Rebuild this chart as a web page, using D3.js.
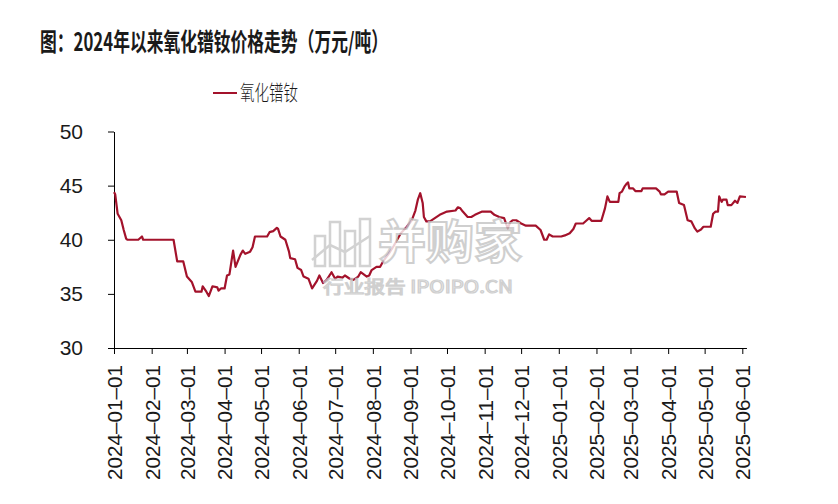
<!DOCTYPE html>
<html>
<head>
<meta charset="utf-8">
<script src="https://cdn.jsdelivr.net/npm/d3@7"></script>
<style>
  html, body { margin: 0; padding: 0; background: #ffffff; }
  svg { display: block; }
</style>
</head>
<body>
<div id="chart"></div>
<script>
// ---------------- data ----------------
const titleText = "图：2024年以来氧化镨钕价格走势（万元/吨）";
const seriesName = "氧化镨钕";
const watermarkBig = "并购家";
const watermarkSmall = "行业报告 IPOIPO.CN";

const yTicks = [30, 35, 40, 45, 50];
const xTickLabels = [
  "2024-01-01","2024-02-01","2024-03-01","2024-04-01","2024-05-01","2024-06-01",
  "2024-07-01","2024-08-01","2024-09-01","2024-10-01","2024-11-01","2024-12-01",
  "2025-01-01","2025-02-01","2025-03-01","2025-04-01","2025-05-01","2025-06-01"
];

const dates = [
  "2024-01-01","2024-01-02","2024-01-04","2024-01-07","2024-01-09","2024-01-11","2024-01-12","2024-01-21",
  "2024-01-24","2024-01-25","2024-02-19","2024-02-22","2024-02-27","2024-03-01","2024-03-05","2024-03-08",
  "2024-03-13","2024-03-14","2024-03-17","2024-03-19","2024-03-22","2024-03-26","2024-03-27","2024-03-29",
  "2024-04-01","2024-04-03","2024-04-05","2024-04-08","2024-04-10","2024-04-14","2024-04-16","2024-04-18",
  "2024-04-22","2024-04-24","2024-04-26","2024-05-06","2024-05-08","2024-05-11","2024-05-14","2024-05-15",
  "2024-05-17","2024-05-21","2024-05-24","2024-05-25","2024-05-29","2024-05-31","2024-06-03","2024-06-05",
  "2024-06-09","2024-06-12","2024-06-16","2024-06-18","2024-06-21","2024-06-24","2024-06-28","2024-07-01",
  "2024-07-03","2024-07-07","2024-07-09","2024-07-13","2024-07-16","2024-07-20","2024-07-22","2024-07-27",
  "2024-07-29","2024-07-31","2024-08-04","2024-08-07","2024-08-10","2024-08-14","2024-08-18","2024-08-21",
  "2024-08-24","2024-08-29","2024-09-02","2024-09-05","2024-09-07","2024-09-09","2024-09-11","2024-09-12",
  "2024-09-14","2024-09-17","2024-09-21","2024-09-25","2024-10-01","2024-10-08","2024-10-10","2024-10-12",
  "2024-10-14","2024-10-18","2024-10-21","2024-10-24","2024-10-30","2024-11-06","2024-11-09","2024-11-13",
  "2024-11-17","2024-11-20","2024-11-22","2024-11-24","2024-11-27","2024-12-01","2024-12-05","2024-12-13",
  "2024-12-17","2024-12-20","2024-12-22","2024-12-24","2024-12-27","2025-01-03","2025-01-06","2025-01-10",
  "2025-01-13","2025-01-15","2025-01-21","2025-01-24","2025-01-26","2025-01-28","2025-02-05","2025-02-08",
  "2025-02-10","2025-02-12","2025-02-19","2025-02-20","2025-02-22","2025-02-24","2025-02-26","2025-02-27",
  "2025-02-28","2025-03-03","2025-03-05","2025-03-10","2025-03-11","2025-03-22","2025-03-25","2025-03-26",
  "2025-03-29","2025-04-01","2025-04-08","2025-04-10","2025-04-14","2025-04-17","2025-04-20","2025-04-23",
  "2025-04-25","2025-04-28","2025-04-30","2025-05-06","2025-05-08","2025-05-10","2025-05-12","2025-05-13",
  "2025-05-15","2025-05-16","2025-05-19","2025-05-20","2025-05-23","2025-05-26","2025-05-28","2025-05-30",
  "2025-06-04"
];

const values = [
  44.4, 44.2, 42.4, 41.8, 40.9, 40.1, 40.0, 40.0,
  40.3, 40.0, 40.0, 38.0, 38.0, 36.6, 36.1, 35.2,
  35.2, 35.7, 35.2, 34.8, 35.7, 35.6, 35.3, 35.5,
  35.5, 36.7, 36.8, 39.0, 37.5, 38.6, 39.0, 38.7,
  38.9, 39.3, 40.3, 40.3, 40.7, 40.8, 41.1, 41.0,
  40.3, 40.0, 38.9, 38.3, 38.2, 37.4, 37.2, 36.6,
  36.4, 35.5, 36.2, 36.7, 36.0, 36.3, 37.0, 36.4,
  36.6, 36.5, 36.7, 36.4, 36.3, 36.6, 37.0, 36.6,
  36.7, 37.2, 37.5, 37.5, 38.1, 38.7, 39.4, 40.0,
  40.6, 41.2, 41.8, 42.7, 43.7, 44.3, 43.4, 42.1,
  41.7, 41.7, 42.0, 42.3, 42.6, 42.7, 43.0, 42.9,
  42.6, 42.1, 42.1, 42.3, 42.6, 42.6, 42.3, 42.1,
  42.0, 41.05, 41.6, 41.8, 41.8, 41.5, 41.3, 41.3,
  40.9, 40.0, 40.0, 40.5, 40.3, 40.3, 40.4, 40.6,
  41.0, 41.5, 41.5, 41.8, 42.0, 41.75, 41.75, 42.9,
  44.0, 43.5, 43.5, 44.3, 44.45, 44.9, 45.2, 45.3,
  44.75, 44.75, 44.5, 44.5, 44.75, 44.75, 44.45, 44.2,
  44.2, 44.45, 44.45, 43.4, 43.2, 41.8, 41.7, 41.05,
  40.75, 40.95, 41.2, 41.2, 42.4, 42.6, 42.6, 44.0,
  43.5, 43.7, 43.7, 43.2, 43.2, 43.6, 43.4, 44.0,
  43.95
];

// ---------------- layout ----------------
const W = 838, H = 504;
const parse = d3.utcParse("%Y-%m-%d");
const lineColor = "#A3122B";
const textColor = "#1a1a1a";
const numFont = "'Liberation Sans', Arial, sans-serif";
const cjkFont = "'Noto Sans CJK SC', 'Noto Sans', sans-serif";

const data = dates.map((d, i) => ({ date: parse(d), value: values[i] }));
const tickDates = xTickLabels.map(parse);

const x = d3.scaleUtc()
  .domain([tickDates[0], tickDates[tickDates.length - 1]])
  .range([114, 742.3]);
const y = d3.scaleLinear().domain([30, 50]).range([348, 131.5]);

const svg = d3.select("#chart").append("svg")
  .attr("width", W).attr("height", H)
  .attr("viewBox", `0 0 ${W} ${H}`);

svg.append("rect").attr("width", W).attr("height", H).attr("fill", "#fff");

// title
svg.append("text")
  .attr("x", 40).attr("y", 51)
  .attr("font-family", cjkFont)
  .attr("font-weight", 700)
  .attr("font-size", 25)
  .attr("fill", textColor)
  .attr("textLength", 348)
  .attr("lengthAdjust", "spacingAndGlyphs")
  .text(titleText);

// legend
const legend = svg.append("g");
legend.append("line")
  .attr("x1", 213).attr("x2", 237).attr("y1", 93).attr("y2", 93)
  .attr("stroke", lineColor).attr("stroke-width", 2);
legend.append("text")
  .attr("x", 240).attr("y", 100)
  .attr("font-family", cjkFont)
  .attr("font-weight", 300)
  .attr("font-size", 21)
  .attr("fill", textColor)
  .attr("textLength", 58)
  .attr("lengthAdjust", "spacingAndGlyphs")
  .text(seriesName);

// y axis
const yAxis = d3.axisLeft(y).tickValues(yTicks).tickSize(6).tickSizeOuter(0).tickPadding(25);
const gy = svg.append("g").attr("transform", "translate(114,0)").call(yAxis);
gy.selectAll("text")
  .attr("font-family", numFont).attr("font-size", 21).attr("fill", textColor);
gy.selectAll("line").attr("stroke", "#000");
gy.select(".domain").attr("stroke", "#000");

// x axis
const xAxis = d3.axisBottom(x).tickValues(tickDates).tickSize(6).tickSizeOuter(0)
  .tickFormat((d, i) => xTickLabels[i].replace(/-/g, "\u2013"));
const gx = svg.append("g").attr("transform", "translate(0,348)").call(xAxis);
gx.select(".domain").remove();
gx.append("line")
  .attr("x1", x(tickDates[0])).attr("x2", x(data[data.length - 1].date) + 1)
  .attr("y1", 0.5).attr("y2", 0.5)
  .attr("stroke", "#000");
gx.selectAll(".tick line").attr("stroke", "#000");
gx.selectAll(".tick text")
  .attr("font-family", numFont).attr("font-size", 20.5).attr("fill", textColor)
  .attr("transform", "rotate(-90)")
  .attr("x", -17).attr("y", 0).attr("dy", "0.36em")
  .attr("text-anchor", "end")
  .attr("textLength", 115)
  .attr("lengthAdjust", "spacingAndGlyphs");

// series line
const line = d3.line().x(d => x(d.date)).y(d => y(d.value));
svg.append("path")
  .datum(data)
  .attr("fill", "none")
  .attr("stroke", lineColor)
  .attr("stroke-width", 2.2)
  .attr("stroke-linejoin", "round")
  .attr("d", line);

// watermark (overlay)
const wm = svg.append("g").attr("opacity", 0.8);
const bars = [[315, 236, 10, 30], [330, 222, 10, 44], [345, 231, 10, 35], [360, 219, 10, 47]];
bars.forEach(b => {
  wm.append("rect").attr("x", b[0]).attr("y", b[1]).attr("width", b[2]).attr("height", b[3])
    .attr("fill", "#fff").attr("stroke", "#c8c8c8").attr("stroke-width", 2.5);
});
wm.append("polyline")
  .attr("points", "312,260 330,245 345,252 370,236")
  .attr("fill", "none").attr("stroke", "#c8c8c8").attr("stroke-width", 2.5);
wm.append("text")
  .attr("x", 378).attr("y", 258)
  .attr("font-family", cjkFont).attr("font-weight", 700).attr("font-size", 46)
  .attr("fill", "#fff").attr("stroke", "#c4c4c4").attr("stroke-width", 2)
  .attr("textLength", 144).attr("lengthAdjust", "spacingAndGlyphs")
  .text(watermarkBig);
wm.append("text")
  .attr("x", 323).attr("y", 293)
  .attr("font-family", cjkFont).attr("font-size", 17)
  .attr("fill", "#fff").attr("stroke", "#c4c4c4").attr("stroke-width", 1.2)
  .attr("textLength", 190).attr("lengthAdjust", "spacingAndGlyphs")
  .text(watermarkSmall);
</script>
</body>
</html>
